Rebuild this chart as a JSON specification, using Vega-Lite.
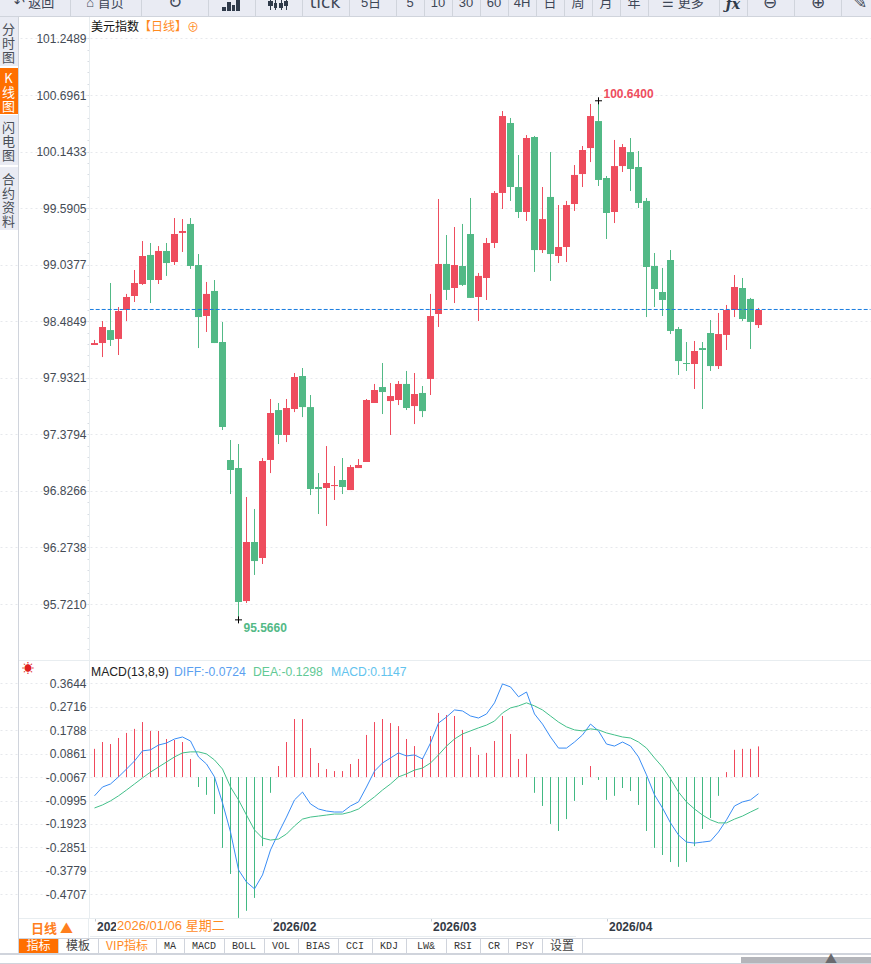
{
  "$schema": "https://vega.github.io/schema/vega-lite/v6.json",
  "width": 871,
  "height": 964,
  "padding": 0,
  "autosize": {"type": "none"},
  "background": "white",
  "config": {"view": {"stroke": null}, "font": "Liberation Sans"},
  "datasets": {
    "kline": [
      {"d":0,"o":98.253,"h":98.302,"l":98.253,"c":98.272},{"d":1,"o":98.272,"h":98.487,"l":98.135,"c":98.429},{"d":2,"o":98.399,"h":98.859,"l":98.243,"c":98.302},{"d":3,"o":98.312,"h":98.624,"l":98.155,"c":98.585},
      {"d":4,"o":98.595,"h":98.752,"l":98.487,"c":98.722},{"d":5,"o":98.732,"h":98.986,"l":98.673,"c":98.859},{"d":6,"o":98.849,"h":99.269,"l":98.840,"c":99.123},{"d":7,"o":99.133,"h":99.250,"l":98.663,"c":98.888},
      {"d":8,"o":98.888,"h":99.220,"l":98.849,"c":99.172},{"d":9,"o":99.172,"h":99.250,"l":98.928,"c":99.054},{"d":10,"o":99.064,"h":99.494,"l":99.035,"c":99.338},{"d":11,"o":99.348,"h":99.484,"l":99.162,"c":99.367},
      {"d":12,"o":99.436,"h":99.494,"l":98.996,"c":99.025},{"d":13,"o":99.035,"h":99.142,"l":98.223,"c":98.526},{"d":14,"o":98.536,"h":98.869,"l":98.380,"c":98.752},{"d":15,"o":98.781,"h":98.888,"l":98.272,"c":98.272},
      {"d":16,"o":98.282,"h":98.478,"l":97.422,"c":97.451},{"d":17,"o":97.129,"h":97.324,"l":96.796,"c":97.031},{"d":18,"o":97.050,"h":97.285,"l":95.566,"c":95.741},{"d":19,"o":95.750,"h":96.767,"l":95.731,"c":96.327},
      {"d":20,"o":96.327,"h":96.650,"l":96.005,"c":96.141},{"d":21,"o":96.171,"h":97.148,"l":96.112,"c":97.119},{"d":22,"o":97.129,"h":97.725,"l":97.001,"c":97.588},{"d":23,"o":97.617,"h":97.686,"l":97.285,"c":97.373},
      {"d":24,"o":97.373,"h":97.725,"l":97.304,"c":97.637},{"d":25,"o":97.627,"h":97.979,"l":97.597,"c":97.940},{"d":26,"o":97.950,"h":98.028,"l":97.548,"c":97.646},{"d":27,"o":97.646,"h":97.764,"l":96.786,"c":96.845},
      {"d":28,"o":96.865,"h":97.001,"l":96.601,"c":96.845},{"d":29,"o":96.855,"h":97.265,"l":96.484,"c":96.904},{"d":30,"o":96.874,"h":97.070,"l":96.738,"c":96.884},{"d":31,"o":96.933,"h":97.148,"l":96.796,"c":96.865},
      {"d":32,"o":96.835,"h":97.080,"l":96.835,"c":97.060},{"d":33,"o":97.050,"h":97.138,"l":97.050,"c":97.080},{"d":34,"o":97.109,"h":97.725,"l":97.109,"c":97.715},{"d":35,"o":97.686,"h":97.872,"l":97.686,"c":97.813},
      {"d":36,"o":97.842,"h":98.077,"l":97.578,"c":97.793},{"d":37,"o":97.705,"h":97.881,"l":97.373,"c":97.754},{"d":38,"o":97.715,"h":97.901,"l":97.666,"c":97.872},{"d":39,"o":97.872,"h":97.999,"l":97.617,"c":97.637},
      {"d":40,"o":97.656,"h":97.979,"l":97.480,"c":97.774},{"d":41,"o":97.784,"h":97.852,"l":97.548,"c":97.607},{"d":42,"o":97.921,"h":98.752,"l":97.764,"c":98.536},{"d":43,"o":98.556,"h":99.680,"l":98.429,"c":99.045},
      {"d":44,"o":99.045,"h":99.328,"l":98.693,"c":98.791},{"d":45,"o":98.810,"h":99.406,"l":98.663,"c":99.035},{"d":46,"o":99.025,"h":99.436,"l":98.830,"c":98.840},{"d":47,"o":99.338,"h":99.690,"l":98.713,"c":98.713},
      {"d":48,"o":98.722,"h":98.957,"l":98.487,"c":98.928},{"d":49,"o":98.908,"h":99.299,"l":98.693,"c":99.250},{"d":50,"o":99.250,"h":99.758,"l":99.201,"c":99.739},{"d":51,"o":99.739,"h":100.540,"l":99.582,"c":100.491},
      {"d":52,"o":100.423,"h":100.472,"l":99.661,"c":99.797},{"d":53,"o":99.797,"h":100.110,"l":99.494,"c":99.553},{"d":54,"o":99.553,"h":100.305,"l":99.465,"c":100.276},{"d":55,"o":100.286,"h":100.296,"l":98.967,"c":99.181},
      {"d":56,"o":99.181,"h":99.797,"l":99.152,"c":99.484},{"d":57,"o":99.700,"h":100.139,"l":98.879,"c":99.142},{"d":58,"o":99.123,"h":99.621,"l":99.054,"c":99.211},{"d":59,"o":99.211,"h":99.661,"l":99.064,"c":99.621},
      {"d":60,"o":99.631,"h":100.012,"l":99.563,"c":99.915},{"d":61,"o":99.924,"h":100.198,"l":99.797,"c":100.159},{"d":62,"o":100.178,"h":100.609,"l":100.041,"c":100.491},{"d":63,"o":100.442,"h":100.640,"l":99.807,"c":99.866},
      {"d":64,"o":99.885,"h":99.905,"l":99.289,"c":99.543},{"d":65,"o":99.553,"h":100.257,"l":99.445,"c":100.002},{"d":66,"o":100.002,"h":100.217,"l":99.944,"c":100.188},{"d":67,"o":100.139,"h":100.276,"l":99.758,"c":99.973},
      {"d":68,"o":99.993,"h":100.149,"l":99.592,"c":99.641},{"d":69,"o":99.661,"h":99.690,"l":98.526,"c":99.015},{"d":70,"o":99.025,"h":99.152,"l":98.624,"c":98.800},{"d":71,"o":98.771,"h":99.006,"l":98.536,"c":98.693},
      {"d":72,"o":99.084,"h":99.181,"l":98.360,"c":98.390},{"d":73,"o":98.409,"h":98.429,"l":97.960,"c":98.096},{"d":74,"o":98.077,"h":98.282,"l":97.999,"c":98.067},{"d":75,"o":98.067,"h":98.292,"l":97.823,"c":98.194},
      {"d":76,"o":98.223,"h":98.282,"l":97.627,"c":98.204},{"d":77,"o":98.370,"h":98.497,"l":97.999,"c":98.047},{"d":78,"o":98.047,"h":98.566,"l":98.018,"c":98.360},{"d":79,"o":98.351,"h":98.644,"l":98.204,"c":98.595},
      {"d":80,"o":98.595,"h":98.937,"l":98.526,"c":98.820},{"d":81,"o":98.810,"h":98.908,"l":98.487,"c":98.507},{"d":82,"o":98.703,"h":98.713,"l":98.214,"c":98.478},{"d":83,"o":98.448,"h":98.615,"l":98.419,"c":98.595}
    ],
    "macd": [
      {"d":0,"macd":0.105,"diff":-0.081,"dea":-0.129},{"d":1,"macd":0.132,"diff":-0.046,"dea":-0.117},{"d":2,"macd":0.124,"diff":-0.034,"dea":-0.101},{"d":3,"macd":0.148,"diff":-0.006,"dea":-0.081},
      {"d":4,"macd":0.168,"diff":0.025,"dea":-0.058},{"d":5,"macd":0.184,"diff":0.057,"dea":-0.034},{"d":6,"macd":0.211,"diff":0.097,"dea":-0.010},{"d":7,"macd":0.176,"diff":0.101,"dea":0.013},
      {"d":8,"macd":0.176,"diff":0.120,"dea":0.033},{"d":9,"macd":0.144,"diff":0.128,"dea":0.053},{"d":10,"macd":0.140,"diff":0.144,"dea":0.073},{"d":11,"macd":0.132,"diff":0.152,"dea":0.089},
      {"d":12,"macd":0.065,"diff":0.136,"dea":0.093},{"d":13,"macd":-0.046,"diff":0.073,"dea":0.093},{"d":14,"macd":-0.077,"diff":0.045,"dea":0.085},{"d":15,"macd":-0.153,"diff":-0.006,"dea":0.061},
      {"d":16,"macd":-0.287,"diff":-0.109,"dea":0.025},{"d":17,"macd":-0.390,"diff":-0.224,"dea":-0.046},{"d":18,"macd":-0.564,"diff":-0.374,"dea":-0.097},{"d":19,"macd":-0.536,"diff":-0.422,"dea":-0.157},
      {"d":20,"macd":-0.485,"diff":-0.449,"dea":-0.216},{"d":21,"macd":-0.280,"diff":-0.394,"dea":-0.248},{"d":22,"macd":-0.069,"diff":-0.295,"dea":-0.256},{"d":23,"macd":0.037,"diff":-0.228,"dea":-0.252},
      {"d":24,"macd":0.132,"diff":-0.165,"dea":-0.232},{"d":25,"macd":0.223,"diff":-0.097,"dea":-0.200},{"d":26,"macd":0.223,"diff":-0.066,"dea":-0.173},{"d":27,"macd":0.108,"diff":-0.113,"dea":-0.165},
      {"d":28,"macd":0.049,"diff":-0.133,"dea":-0.161},{"d":29,"macd":0.025,"diff":-0.141,"dea":-0.157},{"d":30,"macd":0.017,"diff":-0.145,"dea":-0.153},{"d":31,"macd":0.017,"diff":-0.145,"dea":-0.153},
      {"d":32,"macd":0.045,"diff":-0.121,"dea":-0.145},{"d":33,"macd":0.065,"diff":-0.105,"dea":-0.133},{"d":34,"macd":0.160,"diff":-0.046,"dea":-0.109},{"d":35,"macd":0.211,"diff":0.017,"dea":-0.085},
      {"d":36,"macd":0.223,"diff":0.049,"dea":-0.058},{"d":37,"macd":0.207,"diff":0.069,"dea":-0.034},{"d":38,"macd":0.195,"diff":0.089,"dea":-0.006},{"d":39,"macd":0.144,"diff":0.077,"dea":0.006},
      {"d":40,"macd":0.116,"diff":0.081,"dea":0.021},{"d":41,"macd":0.069,"diff":0.065,"dea":0.029},{"d":42,"macd":0.156,"diff":0.128,"dea":0.049},{"d":43,"macd":0.247,"diff":0.207,"dea":0.081},
      {"d":44,"macd":0.239,"diff":0.231,"dea":0.116},{"d":45,"macd":0.235,"diff":0.259,"dea":0.144},{"d":46,"macd":0.180,"diff":0.255,"dea":0.164},{"d":47,"macd":0.112,"diff":0.235,"dea":0.176},
      {"d":48,"macd":0.081,"diff":0.227,"dea":0.188},{"d":49,"macd":0.089,"diff":0.243,"dea":0.199},{"d":50,"macd":0.136,"diff":0.287,"dea":0.215},{"d":51,"macd":0.235,"diff":0.362,"dea":0.247},
      {"d":52,"macd":0.164,"diff":0.350,"dea":0.267},{"d":53,"macd":0.065,"diff":0.311,"dea":0.275},{"d":54,"macd":0.085,"diff":0.330,"dea":0.287},{"d":55,"macd":-0.069,"diff":0.243,"dea":0.275},
      {"d":56,"macd":-0.121,"diff":0.203,"dea":0.259},{"d":57,"macd":-0.192,"diff":0.152,"dea":0.235},{"d":58,"macd":-0.220,"diff":0.108,"dea":0.211},{"d":59,"macd":-0.173,"diff":0.108,"dea":0.192},
      {"d":60,"macd":-0.101,"diff":0.132,"dea":0.180},{"d":61,"macd":-0.038,"diff":0.160,"dea":0.176},{"d":62,"macd":0.037,"diff":0.203,"dea":0.184},{"d":63,"macd":-0.018,"diff":0.176,"dea":0.180},
      {"d":64,"macd":-0.097,"diff":0.124,"dea":0.168},{"d":65,"macd":-0.081,"diff":0.116,"dea":0.160},{"d":66,"macd":-0.050,"diff":0.132,"dea":0.152},{"d":67,"macd":-0.062,"diff":0.116,"dea":0.148},
      {"d":68,"macd":-0.117,"diff":0.073,"dea":0.132},{"d":69,"macd":-0.220,"diff":0.002,"dea":0.108},{"d":70,"macd":-0.287,"diff":-0.077,"dea":0.069},{"d":71,"macd":-0.315,"diff":-0.129,"dea":0.033},
      {"d":72,"macd":-0.343,"diff":-0.188,"dea":-0.014},{"d":73,"macd":-0.362,"diff":-0.236,"dea":-0.066},{"d":74,"macd":-0.343,"diff":-0.264,"dea":-0.105},{"d":75,"macd":-0.280,"diff":-0.268,"dea":-0.133},
      {"d":76,"macd":-0.212,"diff":-0.264,"dea":-0.157},{"d":77,"macd":-0.169,"diff":-0.260,"dea":-0.176},{"d":78,"macd":-0.081,"diff":-0.224,"dea":-0.188},{"d":79,"macd":0.013,"diff":-0.176,"dea":-0.188},
      {"d":80,"macd":0.101,"diff":-0.121,"dea":-0.173},{"d":81,"macd":0.105,"diff":-0.105,"dea":-0.161},{"d":82,"macd":0.105,"diff":-0.097,"dea":-0.145},{"d":83,"macd":0.1147,"diff":-0.0724,"dea":-0.1298}
    ],
    "extremes": [
      {"d":63,"p":100.64,"label":"100.6400","kind":"high"},
      {"d":18,"p":95.566,"label":"95.5660","kind":"low"}
    ],
    "lastPrice": [{"last":98.6,"from":-0.6,"to":97}],
    "panels": [
      {"x0":0,"x1":871,"y0":0,"y1":16,"part":"bar"},
      {"x0":0,"x1":871,"y0":16,"y1":17,"part":"line"},
      {"x0":70,"x1":71,"y0":0,"y1":16,"part":"line"},{"x0":141,"x1":142,"y0":0,"y1":16,"part":"line"},{"x0":208,"x1":209,"y0":0,"y1":16,"part":"line"},{"x0":255,"x1":256,"y0":0,"y1":16,"part":"line"},
      {"x0":302,"x1":303,"y0":0,"y1":16,"part":"line"},{"x0":349,"x1":350,"y0":0,"y1":16,"part":"line"},{"x0":396,"x1":397,"y0":0,"y1":16,"part":"line"},{"x0":424,"x1":425,"y0":0,"y1":16,"part":"line"},
      {"x0":452,"x1":453,"y0":0,"y1":16,"part":"line"},{"x0":480,"x1":481,"y0":0,"y1":16,"part":"line"},{"x0":508,"x1":509,"y0":0,"y1":16,"part":"line"},{"x0":536,"x1":537,"y0":0,"y1":16,"part":"line"},
      {"x0":564,"x1":565,"y0":0,"y1":16,"part":"line"},{"x0":592,"x1":593,"y0":0,"y1":16,"part":"line"},{"x0":620,"x1":621,"y0":0,"y1":16,"part":"line"},{"x0":648,"x1":649,"y0":0,"y1":16,"part":"line"},
      {"x0":719,"x1":720,"y0":0,"y1":16,"part":"line"},{"x0":747,"x1":748,"y0":0,"y1":16,"part":"line"},{"x0":794,"x1":795,"y0":0,"y1":16,"part":"line"},{"x0":841,"x1":842,"y0":0,"y1":16,"part":"line"},
      {"x0":222,"x1":226,"y0":7,"y1":11,"part":"icon"},{"x0":227,"x1":231,"y0":2,"y1":11,"part":"icon"},{"x0":232,"x1":235,"y0":5,"y1":11,"part":"icon"},{"x0":236,"x1":240,"y0":0,"y1":11,"part":"icon"},
      {"x0":270,"x1":271,"y0":0,"y1":10,"part":"icon"},{"x0":275,"x1":276,"y0":0,"y1":10,"part":"icon"},{"x0":281,"x1":282,"y0":0,"y1":10,"part":"icon"},{"x0":286,"x1":287,"y0":0,"y1":10,"part":"icon"},
      {"x0":268,"x1":273,"y0":1,"y1":6,"part":"icon"},{"x0":274,"x1":277,"y0":3,"y1":8,"part":"icon"},{"x0":279,"x1":283,"y0":3,"y1":8,"part":"icon"},{"x0":284,"x1":288,"y0":1,"y1":6,"part":"icon"},
      {"x0":0,"x1":18,"y0":17,"y1":66,"part":"bar"},{"x0":0,"x1":18,"y0":68,"y1":114,"part":"orange"},{"x0":0,"x1":18,"y0":115,"y1":165,"part":"bar"},{"x0":0,"x1":18,"y0":167,"y1":230,"part":"bar"},
      {"x0":18,"x1":19,"y0":17,"y1":953,"part":"line"},
      {"x0":89,"x1":90,"y0":17,"y1":918,"part":"faint"},
      {"x0":19,"x1":871,"y0":660,"y1":661,"part":"faint"},
      {"x0":19,"x1":871,"y0":918,"y1":919,"part":"faint"},
      {"x0":88,"x1":89,"y0":918,"y1":938,"part":"faint"},
      {"x0":116,"x1":225,"y0":919,"y1":936,"part":"white"},
      {"x0":90,"x1":576,"y0":936,"y1":937,"part":"faint"},
      {"x0":19,"x1":871,"y0":938,"y1":939,"part":"line"},
      {"x0":0,"x1":871,"y0":953,"y1":955,"part":"line"},
      {"x0":0,"x1":871,"y0":963,"y1":964,"part":"line"},
      {"x0":19,"x1":58,"y0":939,"y1":953,"part":"orange"},
      {"x0":58,"x1":59,"y0":939,"y1":953,"part":"line"},{"x0":98,"x1":99,"y0":939,"y1":953,"part":"line"},{"x0":156,"x1":157,"y0":939,"y1":953,"part":"line"},{"x0":184,"x1":185,"y0":939,"y1":953,"part":"line"},
      {"x0":224,"x1":225,"y0":939,"y1":953,"part":"line"},{"x0":264,"x1":265,"y0":939,"y1":953,"part":"line"},{"x0":298,"x1":299,"y0":939,"y1":953,"part":"line"},{"x0":338,"x1":339,"y0":939,"y1":953,"part":"line"},
      {"x0":372,"x1":373,"y0":939,"y1":953,"part":"line"},{"x0":406,"x1":407,"y0":939,"y1":953,"part":"line"},{"x0":446,"x1":447,"y0":939,"y1":953,"part":"line"},{"x0":480,"x1":481,"y0":939,"y1":953,"part":"line"},
      {"x0":508,"x1":509,"y0":939,"y1":953,"part":"line"},{"x0":542,"x1":543,"y0":939,"y1":953,"part":"line"},{"x0":582,"x1":583,"y0":939,"y1":953,"part":"line"},
      {"x0":741,"x1":871,"y0":957,"y1":963,"part":"thumb"}
    ],
    "toolbar": [
      {"x":34,"y":3,"label":"↶ 返回"},{"x":105,"y":3,"label":"⌂ 首页"},
      {"x":371,"y":3,"label":"5日"},{"x":410,"y":3,"label":"5"},{"x":438,"y":3,"label":"10"},{"x":466,"y":3,"label":"30"},{"x":494,"y":3,"label":"60"},
      {"x":522,"y":3,"label":"4H"},{"x":550,"y":3,"label":"日"},{"x":578,"y":3,"label":"周"},{"x":606,"y":3,"label":"月"},{"x":634,"y":3,"label":"年"},{"x":683,"y":3,"label":"☰ 更多"}
    ],
    "toolbarBig": [
      {"x":175,"y":3,"label":"↻"},{"x":325,"y":3,"label":"tick"},{"x":770,"y":3,"label":"⊖"},{"x":818,"y":3,"label":"⊕"},{"x":860,"y":3,"label":"✎"}
    ],
    "toolbarFx": [{"x":733,"y":5,"label":"ƒx"}],
    "side": [
      {"x":8.5,"y":30,"label":"分\n时\n图","tone":"ink"},
      {"x":8.5,"y":79,"label":"K\n线\n图","tone":"white"},
      {"x":8.5,"y":128,"label":"闪\n电\n图","tone":"ink"},
      {"x":8.5,"y":180,"label":"合\n约\n资\n料","tone":"ink"}
    ],
    "heads": [
      {"x":91,"y":27,"label":"美元指数","tone":"black"},
      {"x":139,"y":27,"label":"【日线】","tone":"amber"},
      {"x":187,"y":28,"label":"⊕","tone":"amber"}
    ],
    "crosshairDate": [{"x":117,"y":926,"label":"2026/01/06 星期二"}],
    "macdHeads": [
      {"x":91,"y":672,"label":"MACD(13,8,9)","tone":"black"},
      {"x":174,"y":672,"label":"DIFF:-0.0724","tone":"diff"},
      {"x":253,"y":672,"label":"DEA:-0.1298","tone":"dea"},
      {"x":331,"y":672,"label":"MACD:0.1147","tone":"hist"}
    ],
    "tabs": [
      {"x":38.5,"y":946,"label":"指标","tone":"white"},{"x":78,"y":946,"label":"模板","tone":"ink"},{"x":127,"y":946,"label":"VIP指标","tone":"amber"},{"x":562,"y":946,"label":"设置","tone":"ink"},
      {"x":52,"y":929,"label":"日线 ▲","tone":"amber","bold":"yes"},{"x":28,"y":669,"label":"☀","tone":"red"},{"x":831,"y":960,"label":"▲","tone":"soft"}
    ],
    "monoTabs": [
      {"x":170,"y":946,"label":"MA"},{"x":204,"y":946,"label":"MACD"},{"x":244,"y":946,"label":"BOLL"},{"x":281,"y":946,"label":"VOL"},{"x":318,"y":946,"label":"BIAS"},
      {"x":355,"y":946,"label":"CCI"},{"x":389,"y":946,"label":"KDJ"},{"x":426,"y":946,"label":"LW&"},{"x":463,"y":946,"label":"RSI"},{"x":494,"y":946,"label":"CR"},{"x":525,"y":946,"label":"PSY"}
    ]
  },
  "layer": [
    {
      "encoding": {
        "x": {"field": "d", "type": "quantitative", "axis": null, "scale": {"domain": [-11.8125, 97.0625], "range": [0, 871], "nice": false, "zero": false, "padding": 0}}
      },
      "layer": [
        {
          "data": {"name": "kline"},
          "mark": {"type": "rule", "strokeWidth": 1},
          "encoding": {
            "y": {
              "field": "h",
              "type": "quantitative",
              "title": null,
              "scale": {"domain": [95.1737, 101.4688], "range": [660, 16], "nice": false, "zero": false},
              "axis": {
                "orient": "left",
                "offset": -89,
                "domain": false,
                "grid": true,
                "gridDash": [2, 3],
                "gridColor": "#e6e8ec",
                "tickColor": "#d8dde3",
                "tickSize": 2,
                "labelColor": "#444b55",
                "labelFontSize": 12,
                "labelPadding": 1,
                "labelOverlap": false,
                "labelExpr": "format(datum.value,'.4f')",
                "values": [101.2489,100.6961,100.1433,99.5905,99.0377,98.4849,97.9321,97.3794,96.8266,96.2738,95.721]
              }
            },
            "y2": {"field": "l"},
            "color": {"condition": {"test": "datum.c>=datum.o", "value": "#ee4d5e"}, "value": "#52b986"}
          }
        },
        {
          "data": {"name": "kline"},
          "mark": {"type": "bar", "size": 7},
          "encoding": {
            "y": {"field": "o", "type": "quantitative", "title": null},
            "y2": {"field": "c"},
            "color": {"condition": {"test": "datum.c>=datum.o", "value": "#ee4d5e"}, "value": "#52b986"}
          }
        },
        {
          "data": {"name": "lastPrice"},
          "mark": {"type": "rule", "color": "#1a7de0", "strokeWidth": 1, "strokeDash": [4, 2]},
          "encoding": {
            "x": {"field": "from", "type": "quantitative", "axis": null},
            "x2": {"field": "to"},
            "y": {"field": "last", "type": "quantitative", "title": null}
          }
        },
        {
          "data": {"name": "extremes"},
          "mark": {"type": "point", "shape": "M-1,0L1,0M0,-1L0,1", "size": 49, "filled": false, "color": "#000000", "strokeWidth": 1, "opacity": 1},
          "encoding": {"y": {"field": "p", "type": "quantitative", "title": null}}
        },
        {
          "data": {"name": "extremes"},
          "transform": [{"filter": "datum.kind=='high'"}],
          "mark": {"type": "text", "align": "left", "dx": 5, "dy": -7, "fontSize": 12, "fontWeight": "bold", "color": "#ee4d5e"},
          "encoding": {"y": {"field": "p", "type": "quantitative", "title": null}, "text": {"field": "label"}}
        },
        {
          "data": {"name": "extremes"},
          "transform": [{"filter": "datum.kind=='low'"}],
          "mark": {"type": "text", "align": "left", "dx": 5, "dy": 8, "fontSize": 12, "fontWeight": "bold", "color": "#52b986"},
          "encoding": {"y": {"field": "p", "type": "quantitative", "title": null}, "text": {"field": "label"}}
        }
      ]
    },
    {
      "data": {"name": "kline"},
      "mark": {"type": "rule", "opacity": 0},
      "encoding": {
        "x": {"field": "d", "type": "quantitative", "axis": null, "scale": {"domain": [-11.8125, 97.0625], "range": [0, 871], "nice": false, "zero": false}},
        "y": {
          "field": "h",
          "type": "quantitative",
          "title": null,
          "scale": {"domain": [95.1737, 101.4688], "range": [660, 16], "nice": false, "zero": false},
          "axis": {
            "orient": "left",
            "offset": -89,
            "domain": false,
            "grid": false,
            "labels": false,
            "tickColor": "#d8dde3",
            "tickSize": 2,
            "values": [101.1383,101.0278,100.9172,100.8067,100.5855,100.475,100.3644,100.2539,100.0327,99.9222,99.8116,99.7011,99.4799,99.3694,99.2588,99.1483,98.9271,98.8166,98.706,98.5955,98.3743,98.2638,98.1532,98.0427,97.8216,97.711,97.6005,97.4899,97.2688,97.1583,97.0477,96.9372,96.716,96.6055,96.4949,96.3844,96.1632,96.0527,95.9421,95.8316,95.6104,95.4999,95.3893,95.2788]
          }
        }
      }
    },
    {
      "data": {"name": "macd"},
      "encoding": {
        "x": {
          "field": "d",
          "type": "quantitative",
          "title": null,
          "scale": {"domain": [-11.8125, 97.0625], "range": [0, 871], "nice": false, "zero": false},
          "axis": {
            "orient": "bottom",
            "offset": -46,
            "values": [0, 22, 42, 64],
            "domain": false,
            "grid": false,
            "tickColor": "#c8cdd4",
            "tickSize": 3,
            "labelExpr": "{'0':'2026/01','22':'2026/02','42':'2026/03','64':'2026/04'}[datum.value]",
            "labelAlign": "left",
            "labelBaseline": "middle",
            "labelPadding": 5,
            "labelOffset": 2,
            "labelFontSize": 12,
            "labelFontWeight": "bold",
            "labelColor": "#333a45",
            "labelFlush": false,
            "labelOverlap": false
          }
        }
      },
      "layer": [
        {
          "mark": {"type": "rule", "strokeWidth": 1},
          "encoding": {
            "y": {
              "field": "macd",
              "type": "quantitative",
              "title": null,
              "scale": {"domain": [-0.5644, 0.4566], "range": [918, 660], "nice": false, "zero": false},
              "axis": {
                "orient": "left",
                "offset": -89,
                "domain": false,
                "ticks": false,
                "grid": true,
                "gridDash": [2, 3],
                "gridColor": "#e6e8ec",
                "labelColor": "#444b55",
                "labelFontSize": 12,
                "labelPadding": 3,
                "labelOverlap": false,
                "labelExpr": "replace(format(datum.value,'.4f'),'−','-')",
                "values": [0.3644, 0.2716, 0.1788, 0.0861, -0.0067, -0.0995, -0.1923, -0.2851, -0.3779, -0.4707]
              }
            },
            "y2": {"datum": -0.0067},
            "color": {"condition": {"test": "datum.macd>-0.0067", "value": "#f0495c"}, "value": "#42b983"}
          }
        },
        {
          "mark": {"type": "line", "color": "#3a8df5", "strokeWidth": 1},
          "encoding": {"y": {"field": "diff", "type": "quantitative", "title": null}}
        },
        {
          "mark": {"type": "line", "color": "#43c08a", "strokeWidth": 1},
          "encoding": {"y": {"field": "dea", "type": "quantitative", "title": null}}
        }
      ]
    },
    {
      "layer": [
        {
          "data": {"name": "panels"},
          "mark": {"type": "rect"},
          "encoding": {
            "x": {"field": "x0", "type": "quantitative", "axis": null, "scale": {"domain": [0, 871], "range": [0, 871], "nice": false, "zero": false}},
            "x2": {"field": "x1"},
            "y": {"field": "y0", "type": "quantitative", "axis": null, "scale": {"domain": [0, 964], "range": [0, 964], "nice": false, "zero": false}},
            "y2": {"field": "y1"},
            "color": {"field": "part", "type": "nominal", "legend": null, "scale": {"domain": ["bar", "line", "faint", "orange", "white", "thumb", "icon"], "range": ["#e9ebf3", "#d0d4dc", "#e8edf0", "#ff6f00", "#ffffff", "#b4b5ba", "#2f3a4a"]}}
          }
        },
        {
          "data": {"name": "toolbar"},
          "mark": {"type": "text", "font": "Liberation Sans, Noto Sans CJK SC", "fontSize": 13, "align": "center", "baseline": "middle", "color": "#3d4656"},
          "encoding": {
            "x": {"field": "x", "type": "quantitative", "axis": null},
            "y": {"field": "y", "type": "quantitative", "axis": null},
            "text": {"field": "label"}
          }
        },
        {
          "data": {"name": "toolbarBig"},
          "mark": {"type": "text", "font": "DejaVu Sans", "fontSize": 17, "align": "center", "baseline": "middle", "color": "#3d4656"},
          "encoding": {
            "x": {"field": "x", "type": "quantitative", "axis": null},
            "y": {"field": "y", "type": "quantitative", "axis": null},
            "text": {"field": "label"}
          }
        },
        {
          "data": {"name": "toolbarFx"},
          "mark": {"type": "text", "font": "DejaVu Serif", "fontSize": 14, "fontWeight": "bold", "fontStyle": "italic", "align": "center", "baseline": "middle", "color": "#2f3a4a"},
          "encoding": {
            "x": {"field": "x", "type": "quantitative", "axis": null},
            "y": {"field": "y", "type": "quantitative", "axis": null},
            "text": {"field": "label"}
          }
        },
        {
          "data": {"name": "side"},
          "mark": {"type": "text", "font": "Noto Sans CJK SC", "fontSize": 13, "lineHeight": 14, "lineBreak": "\n", "align": "center", "baseline": "middle"},
          "encoding": {
            "x": {"field": "x", "type": "quantitative", "axis": null},
            "y": {"field": "y", "type": "quantitative", "axis": null},
            "text": {"field": "label"},
            "color": {"condition": {"test": "datum.tone=='white'", "value": "#ffffff"}, "value": "#4a4f58"}
          }
        },
        {
          "data": {"name": "heads"},
          "mark": {"type": "text", "font": "Noto Sans CJK SC", "fontSize": 12, "align": "left", "baseline": "middle"},
          "encoding": {
            "x": {"field": "x", "type": "quantitative", "axis": null},
            "y": {"field": "y", "type": "quantitative", "axis": null},
            "text": {"field": "label"},
            "color": {"condition": {"test": "datum.tone=='black'", "value": "#111111"}, "value": "#ff8a1e"}
          }
        },
        {
          "data": {"name": "crosshairDate"},
          "mark": {"type": "text", "font": "Liberation Sans, Noto Sans CJK SC", "fontSize": 13, "align": "left", "baseline": "middle", "color": "#ff8a1e"},
          "encoding": {
            "x": {"field": "x", "type": "quantitative", "axis": null},
            "y": {"field": "y", "type": "quantitative", "axis": null},
            "text": {"field": "label"}
          }
        },
        {
          "data": {"name": "macdHeads"},
          "mark": {"type": "text", "fontSize": 12.2, "align": "left", "baseline": "middle"},
          "encoding": {
            "x": {"field": "x", "type": "quantitative", "axis": null},
            "y": {"field": "y", "type": "quantitative", "axis": null},
            "text": {"field": "label"},
            "color": {"condition": [{"test": "datum.tone=='black'", "value": "#222222"}, {"test": "datum.tone=='diff'", "value": "#5b9ff0"}, {"test": "datum.tone=='dea'", "value": "#62c995"}], "value": "#62c3ee"}
          }
        },
        {
          "data": {"name": "tabs"},
          "transform": [{"filter": "datum.bold!='yes'"}],
          "mark": {"type": "text", "font": "Noto Sans CJK SC", "fontSize": 12, "align": "center", "baseline": "middle"},
          "encoding": {
            "x": {"field": "x", "type": "quantitative", "axis": null},
            "y": {"field": "y", "type": "quantitative", "axis": null},
            "text": {"field": "label"},
            "color": {"condition": [{"test": "datum.tone=='white'", "value": "#ffffff"}, {"test": "datum.tone=='amber'", "value": "#ff8a1e"}, {"test": "datum.tone=='red'", "value": "#e02020"}, {"test": "datum.tone=='soft'", "value": "#6a6a6e"}], "value": "#444444"}
          }
        },
        {
          "data": {"name": "tabs"},
          "transform": [{"filter": "datum.bold=='yes'"}],
          "mark": {"type": "text", "font": "Noto Sans CJK SC", "fontSize": 13, "fontWeight": "bold", "align": "center", "baseline": "middle", "color": "#ff7f1e"},
          "encoding": {
            "x": {"field": "x", "type": "quantitative", "axis": null},
            "y": {"field": "y", "type": "quantitative", "axis": null},
            "text": {"field": "label"}
          }
        },
        {
          "data": {"name": "monoTabs"},
          "mark": {"type": "text", "font": "Liberation Mono", "fontSize": 10, "align": "center", "baseline": "middle", "color": "#333333"},
          "encoding": {
            "x": {"field": "x", "type": "quantitative", "axis": null},
            "y": {"field": "y", "type": "quantitative", "axis": null},
            "text": {"field": "label"}
          }
        }
      ]
    }
  ],
  "resolve": {"scale": {"x": "independent", "y": "independent"}}
}
